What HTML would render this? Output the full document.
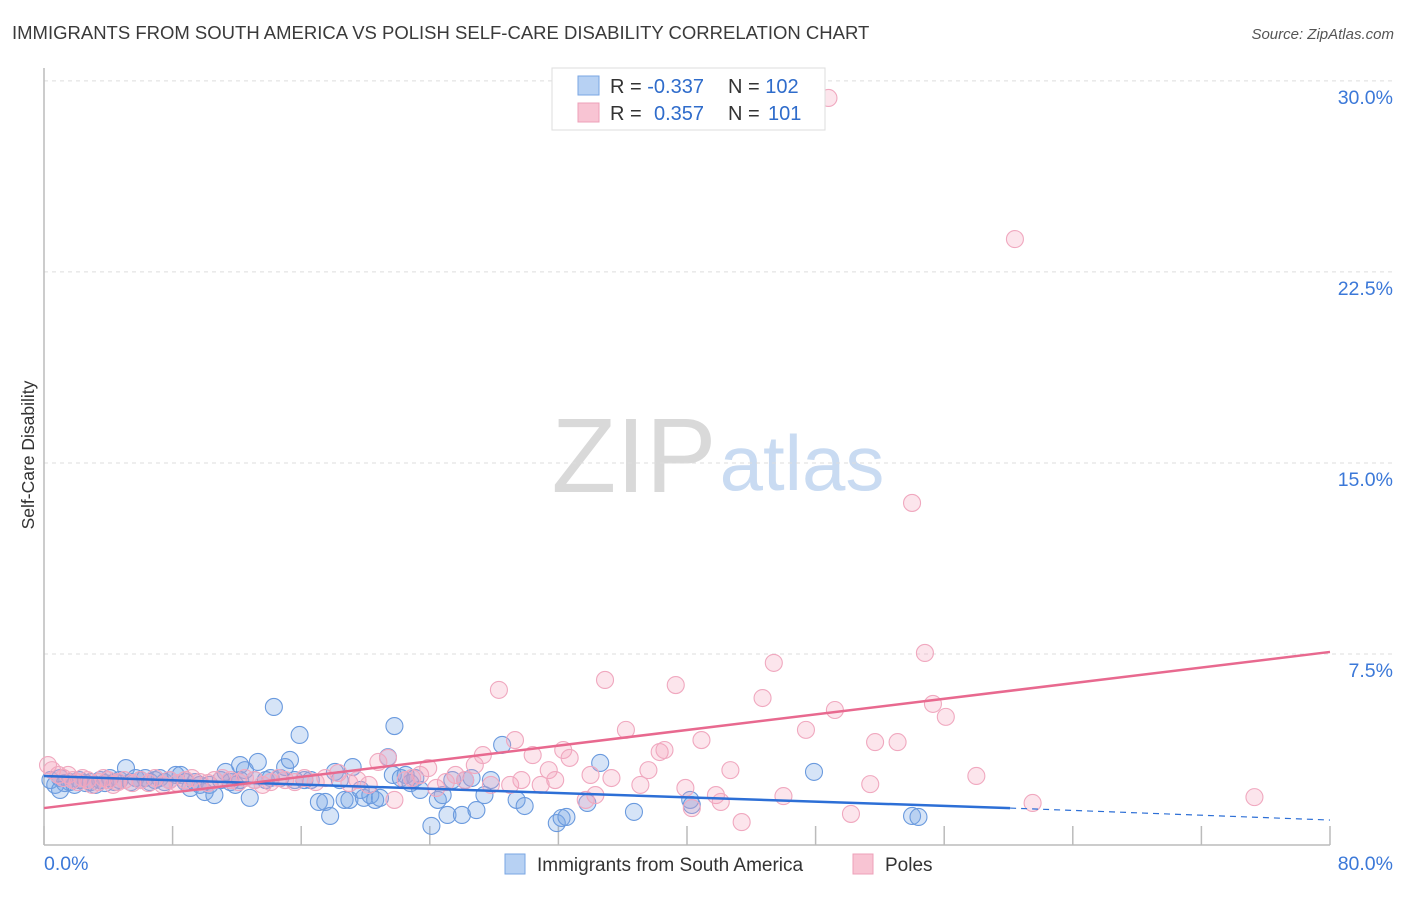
<!DOCTYPE html>
<html><head><meta charset="utf-8"><style>
body{margin:0;background:#fff;font-family:"Liberation Sans",sans-serif;}
svg text{font-family:"Liberation Sans",sans-serif;}
</style></head><body>
<svg width="1406" height="892" xmlns="http://www.w3.org/2000/svg">
<text x="12" y="39" font-size="18.5" fill="#3a3a3a">IMMIGRANTS FROM SOUTH AMERICA VS POLISH SELF-CARE DISABILITY CORRELATION CHART</text>
<text x="1394" y="39" font-size="15" fill="#555" font-style="italic" text-anchor="end">Source: ZipAtlas.com</text>
<g>
<text x="634" y="492" font-size="106" fill="#d9d9d9" font-family="Liberation Serif,serif" text-anchor="middle">ZIP</text>
<text x="802" y="490" font-size="78" fill="#c9dbf2" text-anchor="middle">atlas</text>
</g>
<g id="grid"></g>
<g id="axes"></g>
<g id="pts"></g>
<g id="trend"></g>
<text transform="translate(34,455) rotate(-90)" font-size="17.5" fill="#333" text-anchor="middle">Self-Care Disability</text>
<g>
<rect x="552" y="68" width="273" height="62" fill="#fff" stroke="#ddd"/>
<rect x="578" y="76" width="21" height="19" fill="#b7d1f3" stroke="#7aa6e3"/>
<rect x="578" y="103" width="21" height="19" fill="#f8c4d3" stroke="#eea0b8"/>
<text x="610" y="93" font-size="20" fill="#333">R = <tspan fill="#2f6ccb">-0.337</tspan><tspan x="728">N = </tspan><tspan fill="#2f6ccb">102</tspan></text>
<text x="610" y="120" font-size="20" fill="#333">R = <tspan x="654" fill="#2f6ccb">0.357</tspan><tspan x="728">N = </tspan><tspan x="768" fill="#2f6ccb">101</tspan></text>
</g>
<g>
<rect x="505" y="854" width="20" height="20" fill="#b7d1f3" stroke="#7aa6e3"/>
<text x="537" y="871" font-size="19" fill="#333">Immigrants from South America</text>
<rect x="853" y="854" width="20" height="20" fill="#f8c4d3" stroke="#eea0b8"/>
<text x="885" y="871" font-size="19" fill="#333">Poles</text>
</g>
</svg>
<script>
const xTicks=[0,8,16,24,32,40,48,56,64,72,80];
const yTicks=[7.5,15,22.5,30];
const yTickLabels=["7.5%","15.0%","22.5%","30.0%"];
const xEndLabels=["0.0%","80.0%"];
const blueX=[0.4,0.7,1.0,1.3,1.6,1.9,2.2,2.6,2.9,3.2,3.5,3.8,4.1,4.4,4.7,5.1,5.4,5.7,6.0,6.3,6.6,6.9,7.2,7.5,7.8,8.2,8.5,8.8,9.1,9.4,9.7,10.0,10.3,10.6,11.0,11.3,11.6,11.9,12.2,12.5,12.8,13.1,13.3,13.8,14.1,14.3,14.7,15.0,15.3,15.6,15.9,16.2,16.6,17.1,17.5,17.8,18.1,18.4,18.7,19.0,19.2,19.7,19.9,20.3,20.6,20.9,21.4,21.7,21.8,22.2,22.5,22.8,23.1,23.4,24.1,24.5,24.8,25.1,25.4,26.0,26.2,26.6,26.9,27.4,27.8,28.5,29.4,29.9,31.9,32.2,32.5,33.8,34.6,36.7,40.2,40.3,47.9,54.0,54.4,12.2,1.0];
const blueY=[2.55,2.36,2.63,2.43,2.47,2.36,2.55,2.43,2.47,2.36,2.55,2.43,2.63,2.47,2.55,3.02,2.47,2.63,2.55,2.63,2.47,2.55,2.63,2.47,2.55,2.75,2.75,2.47,2.24,2.47,2.36,2.08,2.36,1.96,2.55,2.87,2.47,2.36,3.14,2.94,1.85,2.55,3.26,2.55,2.63,5.42,2.63,3.06,3.34,2.55,4.32,2.55,2.55,1.69,1.69,1.14,2.87,2.55,1.77,1.77,3.06,2.16,1.85,1.96,1.77,1.85,3.45,2.75,4.67,2.63,2.75,2.43,2.63,2.16,0.75,1.77,1.96,1.18,2.55,1.18,2.55,2.63,1.37,1.96,2.55,3.93,1.77,1.53,0.86,1.06,1.1,1.65,3.22,1.3,1.77,1.57,2.87,1.14,1.1,2.55,2.16];
const pinkX=[0.25,0.5,0.9,1.2,1.5,1.8,2.1,2.4,2.7,3.0,3.4,3.7,4.0,4.3,4.6,5.0,5.5,6.0,6.5,6.9,7.4,7.8,8.3,8.8,9.2,9.7,10.2,10.6,11.1,11.6,12.1,12.5,13.1,13.6,14.1,14.6,15.0,15.6,16.2,16.9,17.5,18.3,19.0,19.5,20.2,20.8,21.4,21.8,22.5,22.9,23.4,23.9,24.4,25.0,25.6,26.2,26.8,27.3,27.8,28.3,29.0,29.3,29.7,30.4,30.9,31.4,31.8,32.3,32.7,33.7,34.0,34.3,34.9,35.3,36.2,37.1,37.6,38.3,38.6,39.3,39.9,40.3,40.9,41.8,42.1,42.7,43.4,44.7,45.4,46.0,47.4,49.2,48.8,50.2,51.4,51.7,53.1,54.0,54.8,55.3,56.1,58.0,60.4,61.5,75.3];
const pinkY=[3.14,2.94,2.75,2.63,2.75,2.55,2.47,2.63,2.55,2.36,2.47,2.63,2.55,2.36,2.47,2.55,2.43,2.55,2.43,2.63,2.36,2.55,2.43,2.55,2.63,2.47,2.43,2.55,2.63,2.55,2.47,2.63,2.55,2.36,2.47,2.63,2.55,2.47,2.63,2.47,2.63,2.83,2.43,2.55,2.36,3.26,3.42,1.77,2.55,2.63,2.75,3.02,2.24,2.47,2.75,2.55,3.14,3.53,2.36,6.09,2.36,4.12,2.55,3.53,2.36,2.94,2.55,3.73,3.42,1.77,2.75,1.96,6.48,2.63,4.52,2.36,2.94,3.65,3.73,6.28,2.24,1.45,4.12,1.96,1.69,2.94,0.9,5.77,7.15,1.92,4.52,5.3,29.33,1.22,2.39,4.04,4.04,13.43,7.54,5.54,5.03,2.71,23.79,1.65,1.88];
const blueTrend=[2.71,1.45,0.98];
const blueTrendX=[0,60.1,80];
const pinkTrend=[1.45,7.58];
const pinkTrendX=[0,80];

const NS="http://www.w3.org/2000/svg";
const X0=44,X1=1330,Y0=845,PXY=25.47;
const sx=v=>X0+(X1-X0)*v/80;
const sy=v=>Y0-v*PXY;
function mk(tag,attrs,parent){const e=document.createElementNS(NS,tag);for(const k in attrs)e.setAttribute(k,attrs[k]);parent.appendChild(e);return e;}
const grid=document.getElementById('grid'),axes=document.getElementById('axes'),pts=document.getElementById('pts'),trend=document.getElementById('trend');
yTicks.forEach((t,i)=>{
  const l=mk('line',{x1:X0,x2:1394,y1:sy(t),y2:sy(t),stroke:'#ddd','stroke-dasharray':'4,4'},grid);
  
  
  const tx=mk('text',{x:1393,y:sy(t)+23,'font-size':19.5,fill:'#3b78d8','text-anchor':'end'},grid);
  tx.textContent=yTickLabels[i];
  
  
});
let a=mk('line',{x1:X0,x2:X0,y1:68,y2:Y0,stroke:'#bbb','stroke-width':1.5},axes);


a=mk('line',{x1:X0,x2:X1,y1:Y0,y2:Y0,stroke:'#bbb','stroke-width':1.5},axes);


xTicks.forEach(t=>{
  const l=mk('line',{x1:sx(t),x2:sx(t),y1:Y0-19,y2:Y0,stroke:'#bbb','stroke-width':1.5},axes);
  
  
});
let t1=mk('text',{x:44,y:870,'font-size':19.5,fill:'#3b78d8'},axes);t1.textContent=xEndLabels[0];


let t2=mk('text',{x:1393,y:870,'font-size':19.5,fill:'#3b78d8','text-anchor':'end'},axes);t2.textContent=xEndLabels[1];


blueX.forEach((x,i)=>{
  const c=mk('circle',{cx:sx(x),cy:sy(blueY[i]),r:8.5,fill:'rgba(120,165,230,0.3)',stroke:'#6a9ade','stroke-width':1.1},pts);
  
  
});
pinkX.forEach((x,i)=>{
  const c=mk('circle',{cx:sx(x),cy:sy(pinkY[i]),r:8.5,fill:'rgba(245,160,185,0.28)',stroke:'#f0a8bf','stroke-width':1.1},pts);
  
  
});
let l=mk('line',{x1:sx(blueTrendX[0]),y1:sy(blueTrend[0]),x2:sx(blueTrendX[1]),y2:sy(blueTrend[1]),stroke:'#2d6fd6','stroke-width':2.5},trend);


l=mk('line',{x1:sx(blueTrendX[1]),y1:sy(blueTrend[1]),x2:sx(blueTrendX[2]),y2:sy(blueTrend[2]),stroke:'#2d6fd6','stroke-width':1.2,'stroke-dasharray':'6,5'},trend);


l=mk('line',{x1:sx(pinkTrendX[0]),y1:sy(pinkTrend[0]),x2:sx(pinkTrendX[1]),y2:sy(pinkTrend[1]),stroke:'#e8698f','stroke-width':2.5},trend);


</script>
</body></html>
